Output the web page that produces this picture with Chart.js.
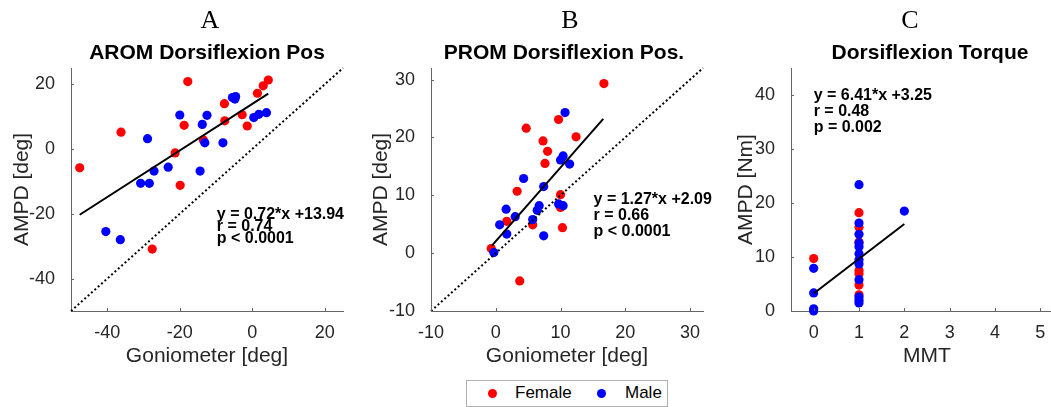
<!DOCTYPE html>
<html>
<head>
<meta charset="utf-8">
<script src="https://cdn.jsdelivr.net/npm/chart.js@4"></script>
<style>
  html, body { margin: 0; padding: 0; background: #fff; overflow: hidden; width: 1051px; height: 407px; }
  canvas { position: absolute; top: 0; }
  #legend { position: absolute; left: 466px; top: 380px; width: 200px; height: 25px; border: 1px solid #b0b0b0; background: #fff;
            font: 17px "Liberation Sans", Arial, sans-serif; color: #000; }
  #legend .dot { position: absolute; top: 8px; width: 9px; height: 9px; border-radius: 50%; }
  #legend .lbl { position: absolute; top: 2px; }
</style>
</head>
<body>
<canvas id="chartA" width="360" height="407" style="left:0"></canvas>
<canvas id="chartB" width="360" height="407" style="left:360px"></canvas>
<canvas id="chartC" width="360" height="407" style="left:720px"></canvas>
<div id="legend">
  <span class="dot" style="left:21px;background:#ff0000"></span><span class="lbl" style="left:48px">Female</span>
  <span class="dot" style="left:130px;background:#0000ff"></span><span class="lbl" style="left:158px">Male</span>
</div>
<script>
// A - AROM dorsiflexion (goniometro x AMPD)
const aromFemX = [-47.6, -36.2, -17.8, -18.8, -21.3, -19.9, -27.6, -13.5, -7.7, -7.6, -2.8, -1.4, 1.4, 3.0, 4.4];
const aromFemY = [-5.8, 5.2, 20.8, 7.3, -1.2, -11.2, -30.9, 2.8, 14.0, 8.7, 10.6, 7.1, 17.2, 19.5, 21.3];
const aromMaleX = [-40.4, -36.4, -28.9, -30.8, -28.4, -27.1, -23.2, -20.0, -14.4, -13.8, -12.5, -13.1, -8.1, -5.5, -4.6, -4.8, 0.4, 1.8, 3.9];
const aromMaleY = [-25.5, -28.0, 3.2, -10.6, -10.6, -6.8, -5.6, 10.5, -6.8, 7.6, 10.4, 1.9, 1.9, 15.9, 16.2, 15.4, 9.7, 10.7, 11.2];
const aromFitX = [-47.6, 4.4];
const aromFitY = [-20.3, 17.1];
const aromIdent = [-50, 25];
const aromTicks = [-40, -20, 0, 20];
const aromStats = ['y = 0.72*x +13.94', 'r = 0.74', 'p < 0.0001'];

// B - PROM dorsiflexion
const promFemX = [-0.7, 3.7, 1.7, 3.3, 4.7, 5.7, 7.3, 8.0, 7.6, 9.7, 10.0, 10.0, 10.3, 12.4, 16.7];
const promFemY = [0.8, -4.8, 5.5, 10.7, 21.6, 4.9, 19.4, 17.6, 15.5, 23.1, 10.1, 7.9, 4.4, 20.1, 29.3];
const promMaleX = [-0.3, 0.6, 1.6, 1.7, 3.0, 4.3, 5.7, 6.4, 6.7, 7.4, 7.4, 9.7, 10.4, 10.0, 10.4, 11.4, 10.7];
const promMaleY = [0.1, 4.9, 7.6, 3.3, 6.3, 12.9, 5.8, 7.4, 8.2, 11.5, 3.0, 8.5, 8.2, 16.1, 16.8, 15.4, 24.3];
const promFitX = [-0.6, 16.6];
const promFitY = [1.3, 23.2];
const promIdent = [-10, 32];
const promTicks = [-10, 0, 10, 20, 30];
const promStats = ['y = 1.27*x +2.09', 'r = 0.66', 'p < 0.0001'];

// C - torque x MMT
const mmtFemX = [0, 1, 1, 1, 1, 1, 1, 1];
const mmtFemY = [9.7, 18.2, 15.5, 12.8, 7.5, 6.9, 4.8, 3.0];
const mmtMaleX = [0, 0, 0, 0, 1, 1, 1, 1, 1, 1, 1, 1, 1, 1, 1, 1, 2];
const mmtMaleY = [7.9, 3.35, 0.4, 0.0, 23.4, 16.3, 14.2, 12.6, 11.9, 10.6, 9.5, 8.7, 5.8, 2.6, 2.0, 1.5, 18.5];
const mmtFitX = [0, 2];
const mmtFitY = [3.25, 16.1];
const mmtXTicks = [0, 1, 2, 3, 4, 5];
const mmtYTicks = [0, 10, 20, 30, 40];
const mmtStats = ['y = 6.41*x +3.25', 'r = 0.48', 'p = 0.002'];

const sans = '"Liberation Sans", Arial, sans-serif';
const axisColor = '#666';
const txtColor = '#262626';

function pts(xs, ys) {
  return xs.map((x, i) => ({ x: x, y: ys[i] }));
}

// letras, titulos, estatisticas e ticks para dentro
const panelText = {
  id: 'panelText',
  afterDraw(chart, args, o) {
    const { ctx, chartArea: a, scales: { x, y } } = chart;
    const cx = (a.left + a.right) / 2;
    ctx.save();
    ctx.fillStyle = '#000';
    ctx.textAlign = 'center';
    ctx.textBaseline = 'middle';
    ctx.font = '26px "Liberation Serif", "Times New Roman", serif';
    ctx.fillText(o.letter, cx + o.letterDx, 21);
    ctx.font = 'bold 21px ' + sans;
    ctx.fillText(o.title, cx + o.titleDx, 53);

    ctx.textAlign = 'left';
    ctx.font = 'bold 16px ' + sans;
    const sx = x.getPixelForValue(o.statX);
    const sy = y.getPixelForValue(o.statY);
    o.stats.forEach((s, i) => ctx.fillText(s, sx, sy + i * o.statGap));

    ctx.strokeStyle = axisColor;
    ctx.lineWidth = 1;
    ctx.beginPath();
    x.ticks.forEach(t => {
      const px = Math.round(x.getPixelForValue(t.value)) + 0.5;
      ctx.moveTo(px, a.bottom);
      ctx.lineTo(px, a.bottom - 3);
    });
    y.ticks.forEach(t => {
      const py = Math.round(y.getPixelForValue(t.value)) + 0.5;
      ctx.moveTo(a.left, py);
      ctx.lineTo(a.left + 3, py);
    });
    ctx.stroke();
    ctx.restore();
  }
};

function makePanel(id, p) {
  const datasets = [
    { data: pts(p.fitX, p.fitY), showLine: true, borderColor: '#000', borderWidth: 2, pointRadius: 0, order: 0 },
    { data: pts(p.maleX, p.maleY), backgroundColor: '#0000ff', borderWidth: 0, pointRadius: 4.6, order: 1 },
    { data: pts(p.femX, p.femY), backgroundColor: '#ff0000', borderWidth: 0, pointRadius: 4.6, order: 2 }
  ];
  if (p.ident) {
    datasets.push({ data: pts(p.ident, p.ident), showLine: true, borderColor: '#000', borderWidth: 2,
                    borderDash: [2, 2.5], pointRadius: 0, order: 0 });
  }
  return new Chart(document.getElementById(id), {
    type: 'scatter',
    data: { datasets: datasets },
    options: {
      responsive: false,
      animation: false,
      clip: false,
      layout: { padding: { top: 68, right: 17, bottom: 36, left: 0 } },
      plugins: {
        legend: { display: false },
        tooltip: { enabled: false },
        panelText: p.text
      },
      scales: {
        x: {
          type: 'linear', min: p.xMin, max: p.xMax,
          afterBuildTicks: s => { s.ticks = p.xTicks.map(v => ({ value: v })); },
          afterFit: s => { s.height = 60; },
          grid: { display: false },
          border: { display: true, color: axisColor, width: 1 },
          ticks: { color: txtColor, font: { family: sans, size: 18 }, padding: 3, maxRotation: 0 },
          title: { display: true, text: p.xTitle, color: txtColor, font: { family: sans, size: 21 }, padding: { top: 0, bottom: 2 } }
        },
        y: {
          type: 'linear', min: p.yMin, max: p.yMax,
          afterBuildTicks: s => { s.ticks = p.yTicks.map(v => ({ value: v })); },
          afterFit: s => { s.width = 71; },
          grid: { display: false },
          border: { display: true, color: axisColor, width: 1 },
          ticks: { color: txtColor, font: { family: sans, size: 18 }, padding: 8 },
          title: { display: true, text: p.yTitle, color: txtColor, font: { family: sans, size: 21 }, padding: { top: p.yTitlePad, bottom: 0 } }
        }
      }
    },
    plugins: [panelText]
  });
}

makePanel('chartA', {
  femX: aromFemX, femY: aromFemY, maleX: aromMaleX, maleY: aromMaleY,
  fitX: aromFitX, fitY: aromFitY, ident: aromIdent,
  xMin: -50, xMax: 25, yMin: -50, yMax: 25, xTicks: aromTicks, yTicks: aromTicks,
  xTitle: 'Goniometer [deg]', yTitle: 'AMPD [deg]', yTitlePad: 10,
  text: { letter: 'A', letterDx: 3, title: 'AROM Dorsiflexion Pos', titleDx: 0,
          stats: aromStats, statX: -9.8, statY: -20.2, statGap: 12 }
});

makePanel('chartB', {
  femX: promFemX, femY: promFemY, maleX: promMaleX, maleY: promMaleY,
  fitX: promFitX, fitY: promFitY, ident: promIdent,
  xMin: -10, xMax: 32, yMin: -10, yMax: 32, xTicks: promTicks, yTicks: promTicks,
  xTitle: 'Goniometer [deg]', yTitle: 'AMPD [deg]', yTitlePad: 9,
  text: { letter: 'B', letterDx: 3, title: 'PROM Dorsiflexion Pos.', titleDx: -3,
          stats: promStats, statX: 15.1, statY: 9.3, statGap: 16 }
});

makePanel('chartC', {
  femX: mmtFemX, femY: mmtFemY, maleX: mmtMaleX, maleY: mmtMaleY,
  fitX: mmtFitX, fitY: mmtFitY, ident: null,
  xMin: -0.5, xMax: 5.5, yMin: 0, yMax: 45, xTicks: mmtXTicks, yTicks: mmtYTicks,
  xTitle: 'MMT', yTitle: 'AMPD [Nm]', yTitlePad: 14,
  text: { letter: 'C', letterDx: -17, title: 'Dorsiflexion Torque', titleDx: 3,
          stats: mmtStats, statX: 0, statY: 39.8, statGap: 16 }
});
</script>
</body>
</html>
